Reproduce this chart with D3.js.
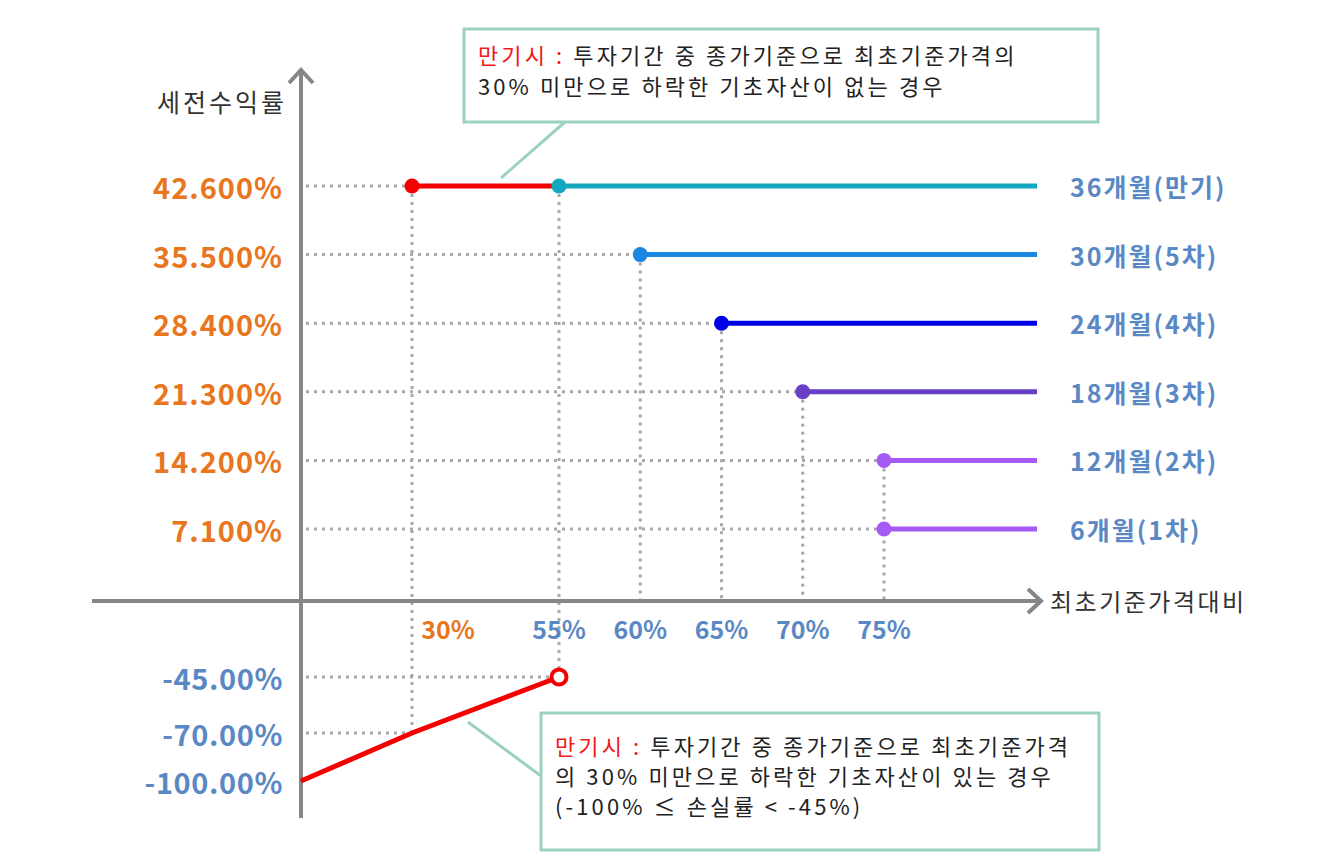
<!DOCTYPE html>
<html>
<head>
<meta charset="utf-8">
<script src="https://cdn.jsdelivr.net/npm/d3@7"></script>
<style>
  html, body { margin: 0; padding: 0; background: #fff; }
  svg { display: block; font-family: "Malgun Gothic", "Noto Sans CJK KR", sans-serif; }
</style>
</head>
<body>
<svg id="chart" width="1324" height="857"></svg>
<script>
// ----------------------------
// Data
// ----------------------------
const seriesLabels = ["36개월(만기)", "30개월(5차)", "24개월(4차)", "18개월(3차)", "12개월(2차)", "6개월(1차)"];
const seriesReturns = [42.6, 35.5, 28.4, 21.3, 14.2, 7.1];
const seriesBarriers = [55, 60, 65, 70, 75, 75];
const seriesColors = ["#12A8C0", "#1A87E0", "#0000E6", "#6A3FC8", "#A55AF5", "#A55AF5"];

const xTicks = [30, 55, 60, 65, 70, 75];
const lossTicks = [-45, -70, -100];

// maturity: no asset under 30% -> 42.6% from 30% up to 55%
const maturityGain = [[30, 42.6], [55, 42.6]];
// maturity: asset under 30% -> loss line
const maturityLoss = [[0, -100], [30, -70], [55, -45]];

const noteTop = ["투자기간 중 종가기준으로 최초기준가격의", "30% 미만으로 하락한 기초자산이 없는 경우"];
const noteBottom = ["투자기간 중 종가기준으로 최초기준가격", "의 30% 미만으로 하락한 기초자산이 있는 경우", "(-100% ≤ 손실률 < -45%)"];

// ----------------------------
// Scales (schematic, piecewise)
// ----------------------------
const svg = d3.select("#chart");
const x = d3.scaleLinear().domain([0, 30, 55, 75, 100]).range([301, 412, 559, 884, 1037]);
const y = d3.scaleLinear().domain([-100, -70, -45, 0, 7.1, 42.6]).range([781, 733, 677, 601, 529, 186]);

const orange = "#E8761E";
const blue = "#5A88C4";
const grid = "#A8A8A8";
const axisColor = "#868686";

// ----------------------------
// Dotted guide lines
// ----------------------------
const guides = svg.append("g")
    .attr("stroke", grid)
    .attr("stroke-width", 3)
    .attr("stroke-dasharray", "3,5");

function guide(x1, y1, x2, y2) {
  guides.append("line")
      .attr("x1", x1).attr("y1", y1)
      .attr("x2", x2).attr("y2", y2);
}

// horizontal from y-axis to start point
guide(x(0) + 5, y(maturityGain[0][1]), x(maturityGain[0][0]), y(maturityGain[0][1]));
seriesReturns.forEach((r, i) => {
  if (i === 0) return;
  guide(x(0) + 5, y(r), x(seriesBarriers[i]), y(r));
});
// vertical from start point down to x-axis
seriesBarriers.forEach((b, i) => {
  if (i === 0 || i === 5) return;
  guide(x(b), y(seriesReturns[i]), x(b), y(0));
});
// 30% and 55% verticals reach the loss line
guide(x(maturityGain[0][0]), y(42.6), x(30), y(-70));
guide(x(55), y(42.6), x(55), y(-45));
guide(x(0) + 5, y(-45), x(55), y(-45));
guide(x(0) + 5, y(-70), x(30), y(-70));

// ----------------------------
// Axes with open arrow heads
// ----------------------------
const axes = svg.append("g")
    .attr("stroke", axisColor)
    .attr("stroke-width", 4)
    .attr("fill", "none");

axes.append("line")
    .attr("x1", 92).attr("y1", y(0))
    .attr("x2", 1040).attr("y2", y(0));
axes.append("path")
    .attr("d", `M1028,${y(0) - 12}L1041,${y(0)}L1028,${y(0) + 12}`);

axes.append("line")
    .attr("x1", x(0)).attr("y1", 818)
    .attr("x2", x(0)).attr("y2", 71);
axes.append("path")
    .attr("d", `M${x(0) - 12},83L${x(0)},70L${x(0) + 12},83`);

svg.append("text")
    .attr("x", 287).attr("y", 101)
    .attr("text-anchor", "end")
    .attr("dominant-baseline", "central")
    .attr("font-size", 25)
    .attr("letter-spacing", 3)
    .attr("fill", "#333")
    .text("세전수익률");

svg.append("text")
    .attr("x", 1050).attr("y", 600)
    .attr("dominant-baseline", "central")
    .attr("font-size", 24)
    .attr("letter-spacing", 2.5)
    .attr("fill", "#333")
    .text("최초기준가격대비");

// ----------------------------
// Tick labels
// ----------------------------
svg.append("g").selectAll("text")
  .data(seriesReturns)
  .join("text")
    .attr("x", 283)
    .attr("y", d => y(d))
    .attr("text-anchor", "end")
    .attr("dominant-baseline", "central")
    .attr("font-size", 29)
    .attr("font-weight", "bold")
    .attr("letter-spacing", 1)
    .attr("fill", orange)
    .text(d => d.toFixed(3) + "%");

svg.append("g").selectAll("text")
  .data(lossTicks)
  .join("text")
    .attr("x", 283)
    .attr("y", d => y(d))
    .attr("text-anchor", "end")
    .attr("dominant-baseline", "central")
    .attr("font-size", 29)
    .attr("font-weight", "bold")
    .attr("letter-spacing", 0.6)
    .attr("fill", blue)
    .text(d => d.toFixed(2) + "%");

svg.append("g").selectAll("text")
  .data(xTicks)
  .join("text")
    .attr("x", d => d === 30 ? x(d) + 36 : x(d))
    .attr("y", 628)
    .attr("text-anchor", "middle")
    .attr("dominant-baseline", "central")
    .attr("font-size", 25)
    .attr("font-weight", "bold")
    .attr("fill", d => d === 30 ? orange : blue)
    .text(d => d + "%");

// ----------------------------
// Callout boxes
// ----------------------------
const mint = "#9BD1C2";

function callout(box, pointer, lines, firstY, lineGap) {
  const g = svg.append("g");
  g.append("line")
      .attr("x1", pointer[0]).attr("y1", pointer[1])
      .attr("x2", pointer[2]).attr("y2", pointer[3])
      .attr("stroke", mint)
      .attr("stroke-width", 3);
  g.append("rect")
      .attr("x", box[0]).attr("y", box[1])
      .attr("width", box[2]).attr("height", box[3])
      .attr("fill", "#fff")
      .attr("stroke", mint)
      .attr("stroke-width", 3);
  lines.forEach((t, i) => {
    const txt = g.append("text")
        .attr("x", box[0] + 14)
        .attr("y", box[1] + firstY + i * lineGap)
        .attr("dominant-baseline", "central")
        .attr("font-size", 22)
        .attr("letter-spacing", 3.1)
        .attr("fill", "#222");
    if (i === 0) {
      txt.append("tspan").attr("fill", "#F01818").text("만기시 : ");
    }
    txt.append("tspan").text(t);
  });
}

// ----------------------------
// Series lines and points
// ----------------------------
const marks = svg.append("g");

seriesReturns.forEach((r, i) => {
  marks.append("line")
      .attr("x1", x(seriesBarriers[i])).attr("y1", y(r))
      .attr("x2", x(100)).attr("y2", y(r))
      .attr("stroke", seriesColors[i])
      .attr("stroke-width", 5);
});

const line = d3.line().x(d => x(d[0])).y(d => y(d[1]));

marks.append("path")
    .datum(maturityGain)
    .attr("fill", "none")
    .attr("stroke", "#F50000")
    .attr("stroke-width", 5)
    .attr("d", line);

marks.append("path")
    .datum(maturityLoss)
    .attr("fill", "none")
    .attr("stroke", "#F50000")
    .attr("stroke-width", 5)
    .attr("d", line);

marks.append("circle")
    .attr("cx", x(maturityGain[0][0])).attr("cy", y(maturityGain[0][1]))
    .attr("r", 7.5)
    .attr("fill", "#F50000");

seriesReturns.forEach((r, i) => {
  marks.append("circle")
      .attr("cx", x(seriesBarriers[i])).attr("cy", y(r))
      .attr("r", 7.5)
      .attr("fill", seriesColors[i]);
});

const lastLoss = maturityLoss[maturityLoss.length - 1];
marks.append("circle")
    .attr("cx", x(lastLoss[0])).attr("cy", y(lastLoss[1]))
    .attr("r", 7.5)
    .attr("fill", "#fff")
    .attr("stroke", "#F50000")
    .attr("stroke-width", 4);

svg.append("g").selectAll("text")
  .data(seriesLabels)
  .join("text")
    .attr("x", 1070)
    .attr("y", (d, i) => y(seriesReturns[i]))
    .attr("dominant-baseline", "central")
    .attr("font-size", 25)
    .attr("font-weight", "bold")
    .attr("letter-spacing", 2)
    .attr("fill", blue)
    .text(d => d);

callout([464, 29, 634, 93], [565, 122, 501, 178], noteTop, 25, 31);
callout([541, 713, 558, 137], [468, 722, 541, 776], noteBottom, 32, 30);
</script>
</body>
</html>
